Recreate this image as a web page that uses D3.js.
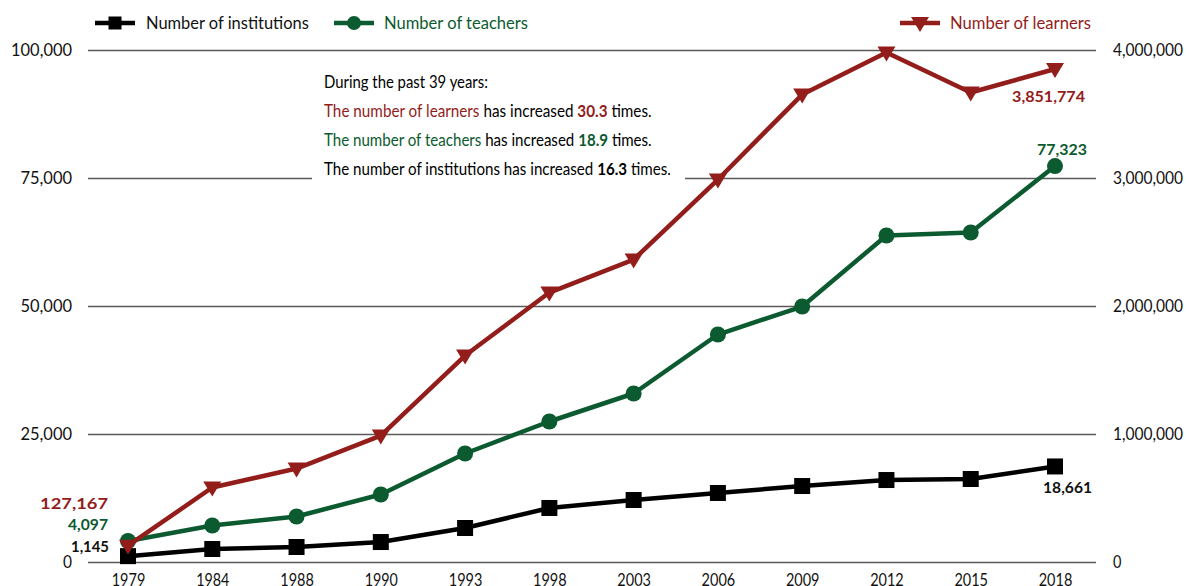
<!DOCTYPE html>
<html>
<head>
<meta charset="utf-8">
<script src="https://cdn.jsdelivr.net/npm/d3@7"></script>
<style>
  body { margin: 0; background: #fff; }
  svg { display: block; }
  text { font-family: Lato, "Noto Sans", "Liberation Sans", sans-serif; }
</style>
</head>
<body>
<svg width="1189" height="586"></svg>
<script>
// values
var years = ["1979", "1984", "1988", "1990", "1993", "1998", "2003", "2006", "2009", "2012", "2015", "2018"];
var institutions = [1145, 2540, 2930, 3900, 6640, 10550, 12110, 13480, 14840, 16010, 16210, 18661];
var teachers = [4097, 7130, 8890, 13180, 21190, 27440, 32910, 44430, 49900, 63770, 64360, 77323];
var learners = [127167, 582000, 730000, 988000, 1613000, 2105000, 2363000, 2988000, 3652000, 3980000, 3668000, 3851774];
var leftTicks = [0, 25000, 50000, 75000, 100000];
var rightTicks = [0, 1000000, 2000000, 3000000, 4000000];

var RED = "#921d1b", GREEN = "#0c5a2f", BLACK = "#000";

var svg = d3.select("svg");

var x = d3.scalePoint().domain(years).range([128, 1055]);
var yLeft = d3.scaleLinear().domain([0, 100000]).range([562, 50]);
var yRight = d3.scaleLinear().domain([0, 4000000]).range([562, 50]);

// squeeze/stretch a text horizontally so it spans the width seen in the picture
function fit(text, w) {
  var bw = text.node().getBBox().width;
  if (bw > 0) text.attr("transform", "scale(" + (w / bw) + ",1)");
}

// text made of coloured parts, anchored at (px, py)
function label(px, py, parts, opts) {
  var g = svg.append("g").attr("transform", "translate(" + px + "," + py + ")");
  var t = g.append("text")
      .attr("text-anchor", opts.anchor || "start")
      .attr("font-size", opts.size || 16);
  parts.forEach(function(p) {
    t.append("tspan")
      .attr("fill", p[1] || BLACK)
      .attr("font-weight", p[2] ? "bold" : "normal")
      .text(p[0]);
  });
  if (opts.width) fit(t, opts.width);
  return t;
}

// width of a tick label: digits and commas as in the picture
function tickWidth(s, digit, comma) {
  var w = 0;
  for (var i = 0; i < s.length; i++) w += s[i] === "," ? comma : digit;
  return w;
}

function styleTicks(axisG, digit, comma) {
  axisG.select(".domain").remove();
  axisG.selectAll("text")
      .attr("font-size", 16.5)
      .attr("fill", "#111")
      .each(function() {
        var t = d3.select(this);
        fit(t, tickWidth(t.text(), digit, comma));
      });
}

// gridlines
var grid = svg.append("g")
    .attr("transform", "translate(88,0)")
    .call(d3.axisRight(yLeft).tickValues(leftTicks).tickSize(1008).tickFormat(""));
grid.select(".domain").remove();
grid.selectAll("line").attr("stroke", "#5a5a5a").attr("stroke-width", 1.7);

// left axis labels
var left = svg.append("g")
    .attr("transform", "translate(72,0)")
    .call(d3.axisLeft(yLeft).tickValues(leftTicks).tickSize(0).tickPadding(0).tickFormat(d3.format(",")));
styleTicks(left, 9.4, 5);

// right axis labels
var right = svg.append("g")
    .attr("transform", "translate(1113,0)")
    .call(d3.axisRight(yRight).tickValues(rightTicks).tickSize(0).tickPadding(0).tickFormat(d3.format(",")));
styleTicks(right, 8.8, 4.5);

// year labels
var bottom = svg.append("g")
    .attr("transform", "translate(0,562)")
    .call(d3.axisBottom(x).tickSize(0).tickPadding(12));
styleTicks(bottom, 8.4, 4);

// white box behind the note, breaking the 75,000 gridline
svg.append("rect")
    .attr("x", 312).attr("y", 62).attr("width", 373).attr("height", 128)
    .attr("fill", "#fff");

label(324, 88, [["During the past 39 years:"]], { size: 16.5, width: 164 });
label(324, 117, [["The number of learners", RED], [" has increased "], ["30.3", RED, true], [" times."]], { size: 16.5, width: 328 });
label(324, 146, [["The number of teachers", GREEN], [" has increased "], ["18.9", GREEN, true], [" times."]], { size: 16.5, width: 328 });
label(324, 175, [["The number of institutions has increased "], ["16.3", BLACK, true], [" times."]], { size: 16.5, width: 347 });

// series
var series = [
  { values: institutions, y: yLeft, color: BLACK, shape: "square" },
  { values: teachers, y: yLeft, color: GREEN, shape: "circle" },
  { values: learners, y: yRight, color: RED, shape: "triangle" }
];

var triangle = "M-9,-6L9,-6L0,9Z";

function marker(g, shape, color, small) {
  if (shape === "square") {
    var s = small ? 13 : 16;
    g.append("rect").attr("x", -s / 2).attr("y", -s / 2).attr("width", s).attr("height", s).attr("fill", color);
  } else if (shape === "circle") {
    g.append("circle").attr("r", small ? 7 : 8).attr("fill", color);
  } else {
    g.append("path").attr("d", triangle).attr("fill", color);
  }
}

series.forEach(function(s) {
  var pts = years.map(function(yr, i) { return [x(yr), s.y(s.values[i])]; });
  svg.append("path")
      .datum(pts)
      .attr("fill", "none")
      .attr("stroke", s.color)
      .attr("stroke-width", 4.5)
      .attr("stroke-linejoin", "round")
      .attr("d", d3.line());
  svg.append("g").selectAll("g")
      .data(pts)
      .enter().append("g")
      .attr("transform", function(d) { return "translate(" + d[0] + "," + d[1] + ")"; })
      .each(function() { marker(d3.select(this), s.shape, s.color, false); });
});

// value labels at first and last year
var fmt = d3.format(",");
label(108, 509, [[fmt(learners[0]), RED, true]], { anchor: "end", size: 15.5, width: 68 });
label(108, 530, [[fmt(teachers[0]), GREEN, true]], { anchor: "end", size: 15.5, width: 40 });
label(109, 552, [[fmt(institutions[0]), "#111", true]], { anchor: "end", size: 15.5, width: 38 });
label(1085, 102, [[fmt(learners[11]), RED, true]], { anchor: "end", size: 15.5, width: 73 });
label(1087, 155, [[fmt(teachers[11]), GREEN, true]], { anchor: "end", size: 15.5, width: 50 });
label(1092, 493, [[fmt(institutions[11]), "#111", true]], { anchor: "end", size: 15.5, width: 49 });

// legend
var legend = [
  { name: "Number of institutions", shape: "square", color: BLACK, x0: 95, tx: 146, w: 163 },
  { name: "Number of teachers", shape: "circle", color: GREEN, x0: 334, tx: 384, w: 144 },
  { name: "Number of learners", shape: "triangle", color: RED, x0: 900, tx: 950, w: 141 }
];
legend.forEach(function(l) {
  var g = svg.append("g").attr("transform", "translate(" + l.x0 + ",23)");
  g.append("line").attr("x1", 0).attr("x2", 40).attr("stroke", l.color).attr("stroke-width", 4.5);
  var m = g.append("g").attr("transform", "translate(20,0)");
  marker(m, l.shape, l.color, true);
  label(l.tx, 29, [[l.name, l.color === BLACK ? "#111" : l.color]], { size: 16.5, width: l.w });
});
</script>
</body>
</html>
